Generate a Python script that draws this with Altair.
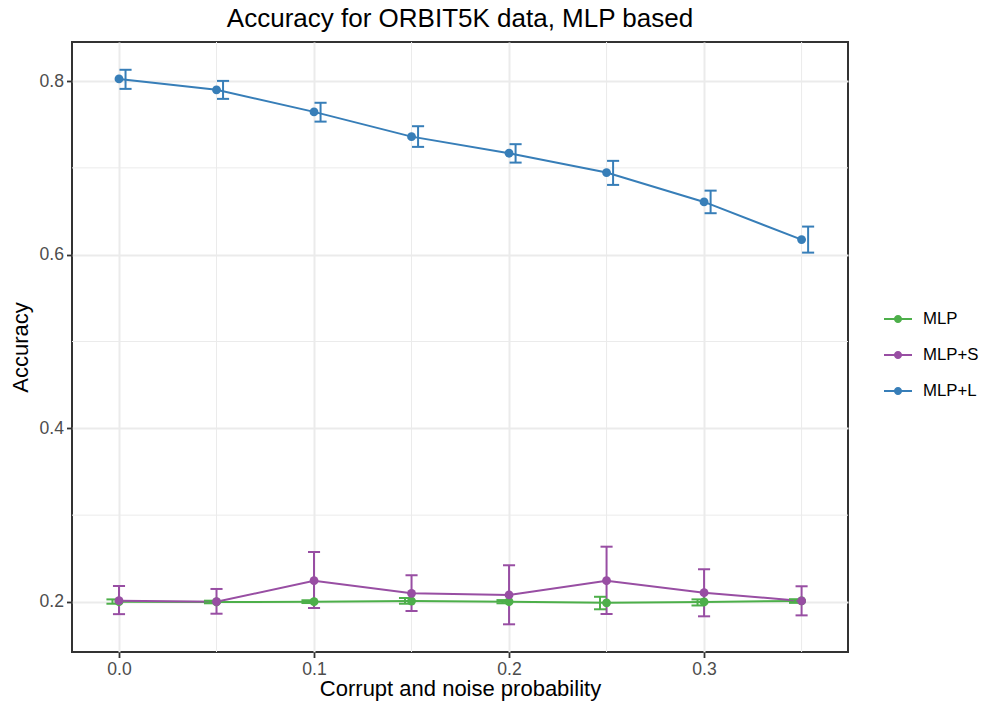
import altair as alt
import pandas as pd

# ---- data ----
x_vals = [0.0, 0.05, 0.1, 0.15, 0.2, 0.25, 0.3, 0.35]
series_names = ["MLP", "MLP+S", "MLP+L"]
series_colors = ["#4DAF4A", "#984EA3", "#377EB8"]

mlp_mean = [0.2003, 0.2000, 0.2003, 0.2010, 0.2003, 0.1990, 0.2000, 0.2012]
mlp_lo = [0.1980, 0.1985, 0.1988, 0.1980, 0.1985, 0.1916, 0.1960, 0.1990]
mlp_hi = [0.2030, 0.2015, 0.2020, 0.2046, 0.2022, 0.2060, 0.2030, 0.2032]

mlps_mean = [0.2015, 0.2003, 0.2245, 0.2100, 0.2081, 0.2245, 0.2107, 0.2012]
mlps_lo = [0.1860, 0.1865, 0.1931, 0.1896, 0.1743, 0.1862, 0.1835, 0.1846]
mlps_hi = [0.2184, 0.2150, 0.2576, 0.2308, 0.2423, 0.2637, 0.2377, 0.2181]

mlpl_mean = [0.8025, 0.7899, 0.7645, 0.7360, 0.7169, 0.6946, 0.6608, 0.6174]
mlpl_lo = [0.7910, 0.7795, 0.7533, 0.7242, 0.7061, 0.6804, 0.6478, 0.6024]
mlpl_hi = [0.8130, 0.8002, 0.7750, 0.7480, 0.7273, 0.7081, 0.6738, 0.6324]

x_major = [0.0, 0.1, 0.2, 0.3]
x_minor = [0.05, 0.15, 0.25, 0.35]
y_major = [0.2, 0.4, 0.6, 0.8]
y_minor = [0.3, 0.5, 0.7]

rows = []
for name, m, lo, hi in [
    ("MLP", mlp_mean, mlp_lo, mlp_hi),
    ("MLP+S", mlps_mean, mlps_lo, mlps_hi),
    ("MLP+L", mlpl_mean, mlpl_lo, mlpl_hi),
]:
    for xv, a, b, c in zip(x_vals, m, lo, hi):
        rows.append({"x": xv, "series": name, "mean": a, "lo": b, "hi": c})
df = pd.DataFrame(rows)

x_dom = [-0.0241, 0.3738]
y_dom = [0.1424, 0.845]

xs = alt.Scale(domain=x_dom, nice=False, zero=False)
ys = alt.Scale(domain=y_dom, nice=False, zero=False)
cs = alt.Scale(domain=series_names, range=series_colors)

grid_col = "#EBEBEB"
FONT = "Liberation Sans"

x_axis = alt.Axis(
    values=x_major, format=".1f", labelFontSize=17.6, labelColor="#4D4D4D",
    tickColor="#333333", tickSize=5.5, tickWidth=1.8, domain=False,
    grid=True, gridColor=grid_col, gridWidth=2,
    title="Corrupt and noise probability", titleFontSize=22,
    titleFontWeight="normal", titleColor="#000000", titlePadding=0, labelPadding=3,
)
y_axis = alt.Axis(
    values=y_major, format=".1f", labelFontSize=17.6, labelColor="#4D4D4D",
    tickColor="#333333", tickSize=5.5, tickWidth=1.8, domain=False,
    grid=True, gridColor=grid_col, gridWidth=2,
    title="Accuracy", titleFontSize=22, titleFontWeight="normal",
    titleColor="#000000", titlePadding=7, labelPadding=3,
)

minor_x = alt.Chart(pd.DataFrame({"v": x_minor})).mark_rule(
    color=grid_col, strokeWidth=1
).encode(x=alt.X("v:Q", scale=xs, axis=x_axis))
minor_y = alt.Chart(pd.DataFrame({"v": y_minor})).mark_rule(
    color=grid_col, strokeWidth=1
).encode(y=alt.Y("v:Q", scale=ys, axis=y_axis))

# legend key: thin bar + dot, all filled (unit coordinates, scaled by sqrt(size)/2)
legend_path = ("M-1,-0.075L1,-0.075L1,0.075L-1,0.075Z"
               "M0.29,0A0.29,0.29 0 1,1 -0.29,0A0.29,0.29 0 1,1 0.29,0Z")

leg = alt.Legend(
    title=None, orient="none", legendX=812, legendY=263, padding=0,
    symbolType=legend_path, symbolSize=784, symbolStrokeWidth=0,
    symbolOpacity=1,
    labelFontSize=16.8, labelColor="#000000", labelFont=FONT,
    rowPadding=13, labelOffset=11,
)
color_enc = alt.Color("series:N", scale=cs, legend=leg)

base = alt.Chart(df).transform_calculate(
    xd="datum.x + (datum.series == 'MLP' ? -0.00335 : (datum.series == 'MLP+L' ? 0.00335 : 0))"
).transform_calculate(
    xl="datum.xd - 0.0031", xr="datum.xd + 0.0031"
)

err_v = base.mark_rule(strokeWidth=2).encode(
    x=alt.X("xd:Q", scale=xs), y=alt.Y("lo:Q", scale=ys), y2="hi:Q", color=color_enc
)
cap_lo = base.mark_rule(strokeWidth=2).encode(
    x=alt.X("xl:Q", scale=xs), x2="xr:Q", y=alt.Y("lo:Q", scale=ys), color=color_enc
)
cap_hi = base.mark_rule(strokeWidth=2).encode(
    x=alt.X("xl:Q", scale=xs), x2="xr:Q", y=alt.Y("hi:Q", scale=ys), color=color_enc
)

lines = alt.Chart(df).mark_line(strokeWidth=2).encode(
    x=alt.X("x:Q", scale=xs),
    y=alt.Y("mean:Q", scale=ys),
    color=color_enc,
)
points = alt.Chart(df).mark_circle(size=78, opacity=1).encode(
    x=alt.X("x:Q", scale=xs), y=alt.Y("mean:Q", scale=ys),
    color=color_enc,
)

chart = alt.layer(minor_x, minor_y, lines, err_v, cap_lo, cap_hi, points).properties(
    width=776, height=610,
    title=alt.Title("Accuracy for ORBIT5K data, MLP based", fontSize=26,
                    fontWeight="normal", color="#000000", anchor="middle",
                    offset=10, font=FONT),
    autosize=alt.AutoSizeParams(type="none"),
    padding={"left": 64, "top": 34, "right": 133, "bottom": 50},
).configure(font=FONT).configure_view(
    stroke="#333333", strokeWidth=2
)

chart.save("out.html", embed_options={"renderer": "svg", "actions": False})
